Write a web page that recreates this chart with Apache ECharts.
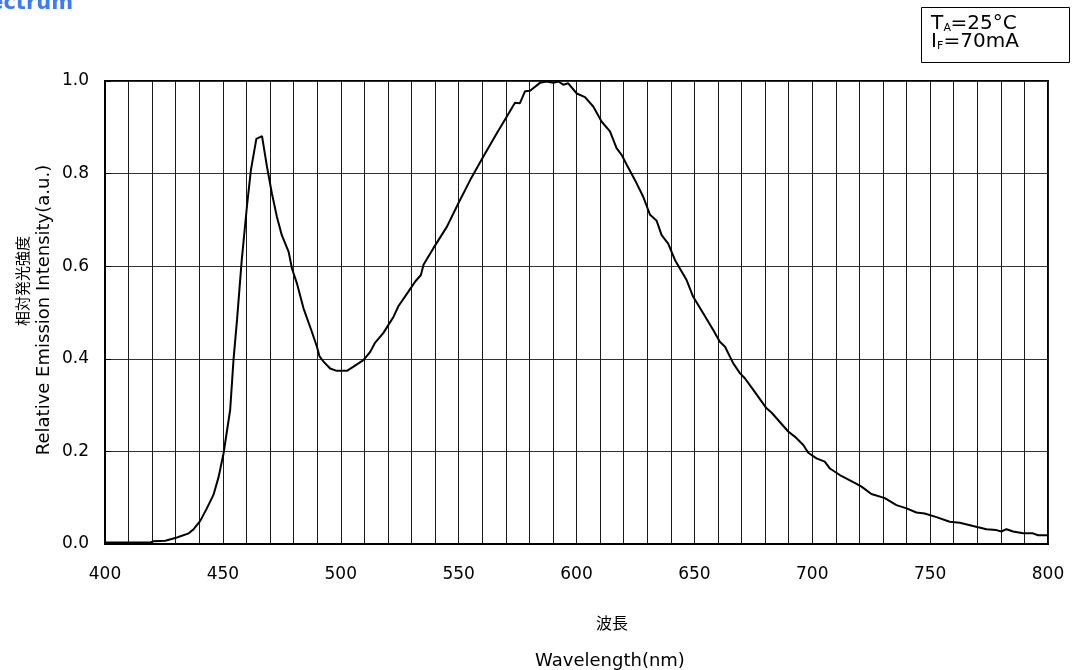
<!DOCTYPE html>
<html><head><meta charset="utf-8">
<script src="https://cdn.jsdelivr.net/npm/echarts@6/dist/echarts.min.js"></script>
<style>html,body{margin:0;padding:0;background:#fff}#c{width:1072px;height:670px}</style>
</head><body><div id="c"></div>
<script>
const wavelength = [400,405,419,420.6,425.6,430.5,435.5,437.6,440.4,443.2,446,448.2,450.3,453.1,454.5,456,458,460.2,461.9,464.2,466.6,468.7,470.8,472.9,475,477.9,479.3,481.4,484.2,487.7,489.9,491,492.7,495.5,498.3,502.6,505.4,509.6,512.5,514.6,518.1,522.4,524.5,528.7,531.6,534,535.1,539.3,545,549.9,554.9,560.5,566.2,570.4,573.9,576,578.2,580.3,584.5,587.3,590.2,592.3,594.4,596.5,600.1,603.6,607.1,610.7,614.2,617,619.2,621.3,625.5,628.3,631.2,634,636.1,638.9,641.8,646.7,649.5,653.8,658,660.8,663,666.5,669.3,671.4,675,680.6,682.7,689.8,692.6,696.2,698.3,701.8,705.3,707.5,711.7,718.8,720.9,725.1,730.8,735.7,740,744.2,747.7,752.7,758.3,762.6,768.2,773.9,778.1,780.2,782.4,785.2,789.4,793.6,795.8,800];
const intensity = [0.003,0.003,0.003,0.006,0.007,0.014,0.023,0.032,0.05,0.077,0.106,0.145,0.196,0.29,0.397,0.484,0.613,0.729,0.808,0.875,0.881,0.815,0.757,0.707,0.667,0.631,0.595,0.563,0.509,0.459,0.426,0.405,0.394,0.379,0.374,0.374,0.383,0.397,0.415,0.435,0.456,0.491,0.514,0.545,0.567,0.581,0.603,0.639,0.685,0.736,0.786,0.837,0.887,0.923,0.953,0.952,0.978,0.979,0.996,0.999,0.996,0.999,0.992,0.995,0.973,0.965,0.945,0.912,0.891,0.855,0.84,0.819,0.779,0.75,0.711,0.698,0.667,0.649,0.613,0.57,0.534,0.498,0.462,0.437,0.426,0.39,0.369,0.358,0.333,0.293,0.284,0.243,0.232,0.214,0.197,0.185,0.178,0.163,0.149,0.13,0.124,0.108,0.099,0.084,0.077,0.068,0.066,0.058,0.048,0.046,0.039,0.032,0.03,0.027,0.032,0.027,0.023,0.023,0.019,0.019];
const xLabelValues = [400,450,500,550,600,650,700,750,800];
const yLabelValues = [0,0.2,0.4,0.6,0.8,1.0];

const FONT = "DejaVu Sans, Verdana, sans-serif";
const CJK = "Noto Sans CJK JP, sans-serif";
const chart = echarts.init(document.getElementById('c'));
chart.setOption({
  animation:false,
  backgroundColor:'#fff',
  grid:{left:105,right:24,top:81,bottom:126,show:true,borderColor:'#000',borderWidth:2,backgroundColor:'transparent'},
  xAxis:{type:'value',min:400,max:800,interval:10,
    axisLine:{show:true,lineStyle:{color:'#000',width:2}},
    axisTick:{show:false},
    splitLine:{show:true,lineStyle:{color:'#1a1a1a',width:1}},
    axisLabel:{color:'#000',fontFamily:FONT,fontSize:17,margin:22,
      formatter:v=> xLabelValues.includes(v)?String(v):''}},
  yAxis:{type:'value',min:0,max:1,interval:0.2,
    axisLine:{show:true,lineStyle:{color:'#000',width:2}},
    axisTick:{show:true,inside:true,length:6,lineStyle:{color:'#000'}},
    splitLine:{show:true,lineStyle:{color:'#333',width:1}},
    axisLabel:{color:'#000',fontFamily:FONT,fontSize:17,margin:16,
      formatter:v=> yLabelValues.some(t=>Math.abs(t-v)<1e-9)?v.toFixed(1):''}},
  series:[{type:'line',data:wavelength.map((w,i)=>[w,intensity[i]]),
    showSymbol:false,symbol:'none',lineStyle:{color:'#000',width:2},smooth:false}],
  graphic:[
    {type:'text',left:-41,top:-7,style:{text:'Spectrum',fill:'#3d7cf5',font:'bold 21px '+FONT}},
    {type:'rect',shape:{x:921.5,y:7.5,width:148,height:55},style:{fill:'#fff',stroke:'#000',lineWidth:1}},
    {type:'text',x:931,y:14,style:{text:'T',font:'20px '+FONT,fill:'#000'}},
    {type:'text',x:943.5,y:23,style:{text:'A',font:'11px '+FONT,fill:'#000'}},
    {type:'text',x:950.5,y:14,style:{text:'=25°C',font:'20px '+FONT,fill:'#000'}},
    {type:'text',x:931,y:32,style:{text:'I',font:'20px '+FONT,fill:'#000'}},
    {type:'text',x:937,y:41,style:{text:'F',font:'11px '+FONT,fill:'#000'}},
    {type:'text',x:943.5,y:32,style:{text:'=70mA',font:'20px '+FONT,fill:'#000'}},
    {type:'text',x:22,y:281,rotation:Math.PI/2,style:{text:'相対発光強度',font:'15px '+CJK,fill:'#000',align:'center',verticalAlign:'middle'}},
    {type:'text',x:44,y:310,rotation:Math.PI/2,style:{text:'Relative Emission Intensity(a.u.)',font:'18px '+FONT,fill:'#000',align:'center',verticalAlign:'middle'}},
    {type:'text',x:612,y:623,style:{text:'波長',font:'16px '+CJK,fill:'#000',align:'center',verticalAlign:'middle'}},
    {type:'text',x:610,y:661,style:{text:'Wavelength(nm)',font:'18px '+FONT,fill:'#000',align:'center',verticalAlign:'middle'}}
  ]
});
</script></body></html>
